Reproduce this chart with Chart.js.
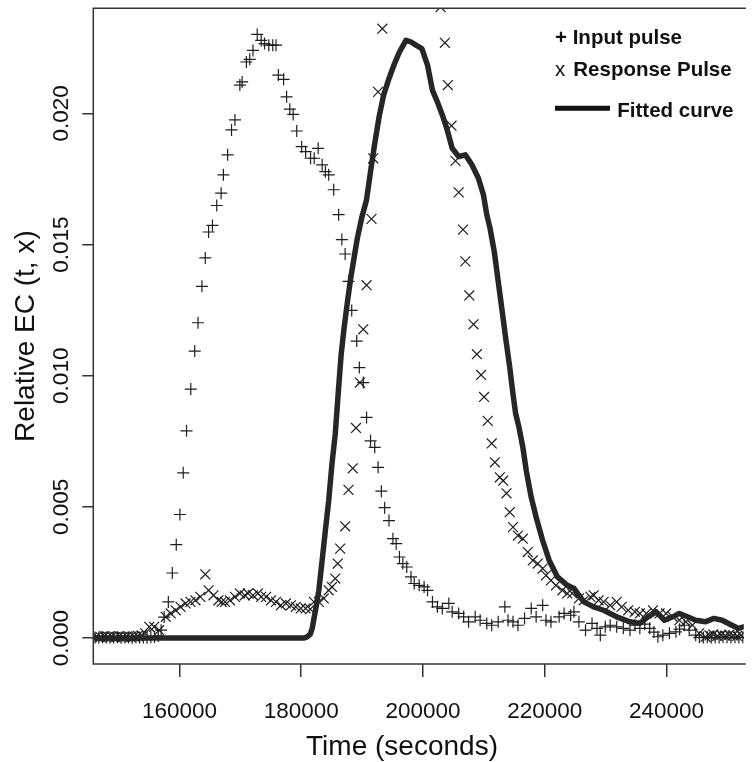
<!DOCTYPE html>
<html><head><meta charset="utf-8">
<script src="https://cdn.jsdelivr.net/npm/chart.js@4.4.1/dist/chart.umd.min.js"></script>
<style>html,body{margin:0;padding:0;background:#fff;}canvas{display:block;}</style>
</head><body>
<canvas id="c" width="752" height="762"></canvas>
<script>
// ---- data (time in seconds, relative EC) ----
const inputTime = [146150,146760,147370,147980,148590,149200,149810,150420,151030,151640,152250,152860,153470,154080,154690,155300,155910,156520,157000,
157490,158180,158830,159480,160080,160620,161170,161870,162510,163050,163700,164250,164790,165430,166130,166850,167220,167920,168560,169120,169930,170300,171000,171550,172080,172780,173430,173980,174680,175330,175860,176250,177110,177600,178130,178690,179270,180080,180730,181540,182140,182790,183440,183970,184520,185340,186150,186680,187220,187770,188300,189120,189550,190200,190740,191390,192080,192630,193170,193710,194420,195070,195600,196140,196690,197340,198040,198570,199380,200190,200750,201560,202370,203180,204250,204800,205870,206680,207490,208580,209390,210480,211290,212360,213450,213980,214790,215600,216690,217780,218590,219660,220210,221020,222370,223180,224260,224800,225610,226700,227770,228580,229130,229940,230750,231820,232910,234000,234810,235620,236430,237240,237940,238590,239400,240480,241550,242150,242920,243730,244800,
245400,246050,246700,247350,248000,248640,249290,249940,250590,251240,251890,252540];
const inputEC = [0.00002,0.00001,0.00003,0.00002,0.00001,0.00002,0.00003,0.00001,0.00002,0.00002,0.00001,0.00003,0.00002,0.00002,0.00001,0.00003,0.00004,0.00008,0.00030,
0.00080,0.00138,0.00248,0.00356,0.00471,0.00630,0.00790,0.00949,0.01094,0.01202,0.01341,0.01449,0.01548,0.01573,0.01649,0.01696,0.01766,0.01842,0.01937,0.01975,0.02108,0.02120,0.02196,0.02206,0.02240,0.02301,0.02278,0.02266,0.02260,0.02260,0.02260,0.02146,0.02130,0.02063,0.02016,0.01996,0.01933,0.01873,0.01854,0.01829,0.01829,0.01867,0.01804,0.01778,0.01766,0.01709,0.01614,0.01519,0.01464,0.01360,0.01249,0.01132,0.01031,0.00974,0.00841,0.00752,0.00727,0.00651,0.00560,0.00497,0.00448,0.00379,0.00360,0.00309,0.00284,0.00271,0.00233,0.00208,0.00201,0.00195,0.00182,0.00138,0.00119,0.00113,0.00132,0.00100,0.00094,0.00081,0.00062,0.00081,0.00068,0.00056,0.00049,0.00062,0.00119,0.00068,0.00062,0.00049,0.00075,0.00113,0.00081,0.00125,0.00068,0.00062,0.00081,0.00094,0.00087,0.00100,0.00062,0.00030,0.00056,0.00037,0.00011,0.00043,0.00049,0.00043,0.00037,0.00030,0.00049,0.00037,0.00053,0.00037,0.00023,0.00005,0.00011,0.00018,0.00024,0.00034,0.00049,0.00030,0.00011,
0.00003,0.00002,0.00004,0.00002,0.00003,0.00002,0.00004,0.00003,0.00002,0.00003,0.00002,0.00003];

const responseTime = [146450,147060,147670,148280,148890,149500,150110,150720,151330,151940,152550,153160,153770,154380,
155050,155860,156680,157760,158570,159380,160190,161010,161820,162630,163440,164250,164790,165600,166410,166940,167490,168300,169120,169930,170740,171270,172080,172900,173430,174240,175050,175860,176670,177490,178300,179110,179920,180730,181490,182090,182900,183710,184520,185060,185600,186000,186410,187220,187770,188470,189000,189650,190200,190740,191550,191820,192630,193330,
202900,203600,204090,204690,205340,205870,206580,206960,207610,208300,208860,209550,210040,210640,211290,211820,212630,213170,213720,214260,214790,215600,216410,217220,218040,218850,219660,220210,221020,221830,222900,223710,224520,225610,226420,227510,228040,228850,229670,230750,231820,232630,233720,234810,235620,236690,237780,238860,239930,241020,242110,243180,244260,245350,246420,
247060,247700,248350,249000,249650,250300,250950,251600,252250];
const responseEC = [0.00006,0.00004,0.00007,0.00005,0.00006,0.00004,0.00007,0.00005,0.00006,0.00004,0.00006,0.00008,0.00010,0.00018,
0.00043,0.00043,0.00030,0.00081,0.00094,0.00106,0.00119,0.00132,0.00138,0.00144,0.00157,0.00243,0.00182,0.00163,0.00144,0.00138,0.00138,0.00144,0.00157,0.00170,0.00163,0.00170,0.00163,0.00170,0.00157,0.00157,0.00144,0.00138,0.00125,0.00132,0.00125,0.00119,0.00113,0.00113,0.00110,0.00138,0.00138,0.00151,0.00182,0.00195,0.00227,0.00284,0.00341,0.00426,0.00565,0.00647,0.00801,0.00974,0.01177,0.01345,0.01598,0.01829,0.02082,0.02323,
0.02405,0.02269,0.02108,0.01953,0.01819,0.01699,0.01557,0.01436,0.01306,0.01196,0.01082,0.01003,0.00919,0.00828,0.00742,0.00670,0.00613,0.00600,0.00552,0.00480,0.00423,0.00391,0.00379,0.00328,0.00296,0.00284,0.00265,0.00239,0.00220,0.00201,0.00182,0.00170,0.00170,0.00151,0.00144,0.00157,0.00163,0.00144,0.00138,0.00125,0.00138,0.00119,0.00106,0.00100,0.00094,0.00094,0.00106,0.00094,0.00094,0.00081,0.00068,0.00062,0.00049,0.00018,0.00005,
0.00010,0.00014,0.00008,0.00012,0.00009,0.00013,0.00010,0.00008,0.00011];

const fittedTime = [146130,150000,155000,160000,165000,170000,175000,179380,180360,
181000,181490,181820,182350,182900,183440,183970,184520,185060,185600,186150,186570,187050,187610,188140,188680,189230,189930,190740,191390,192080,192800,193540,194420,195330,196140,197230,198040,198850,199820,200750,201560,202370,203180,203990,204800,205870,206960,208040,209110,209930,210480,211010,211710,212360,213010,213610,214260,214790,215230,215720,216410,216970,217780,218590,219660,220740,222090,223710,224800,226420,228040,229670,231820,234000,235620,236960,238310,239670,241020,242110,243450,244800,246420,247780,249130,250750,251840,252700,254000];
const fittedEC = [0,0,0,0,0,0,0,0,0,
0.00005,0.00015,0.00038,0.00106,0.00182,0.00296,0.00410,0.00524,0.00665,0.00779,0.00955,0.01082,0.01183,0.01284,0.01373,0.01449,0.01525,0.01601,0.01671,0.01778,0.01886,0.01987,0.02070,0.02133,0.02190,0.02234,0.02279,0.02272,0.02260,0.02247,0.02184,0.02088,0.02044,0.01994,0.01937,0.01867,0.01835,0.01842,0.01804,0.01753,0.01690,0.01614,0.01563,0.01474,0.01360,0.01246,0.01140,0.01031,0.00930,0.00855,0.00809,0.00727,0.00638,0.00537,0.00461,0.00372,0.00296,0.00233,0.00201,0.00189,0.00138,0.00119,0.00106,0.00081,0.00062,0.00056,0.00081,0.00100,0.00068,0.00081,0.00094,0.00081,0.00068,0.00062,0.00075,0.00068,0.00049,0.00037,0.00043,0.00043];

const xTickValues = [160000, 180000, 200000, 220000, 240000];
const xTickLabels = ['160000', '180000', '200000', '220000', '240000'];
const yTickValues = [0, 0.005, 0.010, 0.015, 0.020];
const yTickLabels = ['0.000', '0.005', '0.010', '0.015', '0.020'];
const seriesNames = ['Input pulse', 'Response Pulse', 'Fitted curve'];
const xTitle = 'Time (seconds)';
const yTitle = 'Relative EC (t, x)';

// ---- chart ----
const FONT = '"Liberation Sans", Arial, Helvetica, sans-serif';
const pts = (xs, ys) => xs.map((t, i) => ({x: t, y: ys[i]}));

const decor = {
  id: 'decor',
  beforeDraw(chart) {
    const {ctx, width, height} = chart;
    ctx.save(); ctx.fillStyle = '#fff'; ctx.fillRect(0, 0, width, height); ctx.restore();
  },
  afterDraw(chart) {
    const {ctx, chartArea: a, scales} = chart;
    const ys = scales.y;
    ctx.save();
    ctx.strokeStyle = '#333'; ctx.lineWidth = 1.5;
    ctx.beginPath();
    ctx.moveTo(a.right + 2, a.top); ctx.lineTo(a.left, a.top);
    ctx.lineTo(a.left, a.bottom); ctx.lineTo(a.right + 2, a.bottom);
    ctx.stroke();

    ctx.fillStyle = '#111';
    ctx.textAlign = 'center'; ctx.textBaseline = 'alphabetic';
    ctx.font = '22.5px ' + FONT;
    ys.ticks.forEach((t, i) => {
      const py = ys.getPixelForValue(t.value);
      ctx.save(); ctx.translate(68, py); ctx.rotate(-Math.PI / 2);
      ctx.fillText(yTickLabels[i], 0, 0); ctx.restore();
    });
    ctx.font = '28px ' + FONT;
    ctx.save(); ctx.translate(34, (a.top + a.bottom) / 2); ctx.rotate(-Math.PI / 2);
    ctx.fillText(yTitle, 0, 0); ctx.restore();
    ctx.fillText(xTitle, 402, 755);

    // legend
    ctx.textAlign = 'left';
    ctx.font = 'bold 20.5px ' + FONT;
    ctx.fillText('+ ' + seriesNames[0], 555, 44.3);
    ctx.font = '20.5px ' + FONT;
    ctx.fillText('x', 555, 76);
    ctx.font = 'bold 20.5px ' + FONT;
    ctx.fillText(seriesNames[1], 573.3, 76);
    ctx.strokeStyle = '#111'; ctx.lineWidth = 5;
    ctx.beginPath(); ctx.moveTo(555, 108.3); ctx.lineTo(610, 108.3); ctx.stroke();
    ctx.fillText(seriesNames[2], 617.3, 116.5);
    ctx.restore();
  }
};

new Chart(document.getElementById('c'), {
  type: 'scatter',
  data: {
    datasets: [
      {
        type: 'line', label: seriesNames[2], data: pts(fittedTime, fittedEC),
        borderColor: '#262626', borderWidth: 5.5, pointRadius: 0, tension: 0,
        borderJoinStyle: 'round', borderCapStyle: 'round', fill: false, order: 0
      },
      {
        label: seriesNames[1], data: pts(responseTime, responseEC),
        pointStyle: 'crossRot', pointRadius: 7, borderColor: '#1e1e1e', pointBorderColor: '#1e1e1e',
        backgroundColor: 'transparent', pointBorderWidth: 1.2, order: 1
      },
      {
        label: seriesNames[0], data: pts(inputTime, inputEC),
        pointStyle: 'cross', pointRadius: 6, borderColor: '#1e1e1e', pointBorderColor: '#1e1e1e',
        backgroundColor: 'transparent', pointBorderWidth: 1.2, order: 2
      }
    ]
  },
  options: {
    responsive: false, animation: false, devicePixelRatio: 1,
    layout: {padding: {left: 0, right: 0, top: 6, bottom: 0}},
    plugins: {legend: {display: false}, tooltip: {enabled: false}},
    scales: {
      x: {
        type: 'linear', position: 'bottom', min: 145856, max: 252697,
        afterBuildTicks: s => { s.ticks = xTickValues.map(v => ({value: v})); },
        afterFit: s => { s.height = 98; },
        border: {display: false},
        grid: {display: true, drawOnChartArea: false, drawTicks: true, tickLength: 13, color: '#333', lineWidth: 1.5},
        ticks: {
          callback: (v, i) => xTickLabels[i], autoSkip: false, maxRotation: 0, minRotation: 0,
          color: '#111', padding: 21, font: {family: FONT, size: 22.5}
        },
        title: {display: false}
      },
      y: {
        type: 'linear', position: 'left', min: -0.000988, max: 0.02401,
        afterBuildTicks: s => { s.ticks = yTickValues.map(v => ({value: v})); },
        afterFit: s => { s.width = 93.3; },
        border: {display: false},
        grid: {display: true, drawOnChartArea: false, drawTicks: true, tickLength: 11, color: '#333', lineWidth: 1.5},
        ticks: {display: false},
        title: {display: false}
      }
    }
  },
  plugins: [decor]
});
</script>
</body></html>
